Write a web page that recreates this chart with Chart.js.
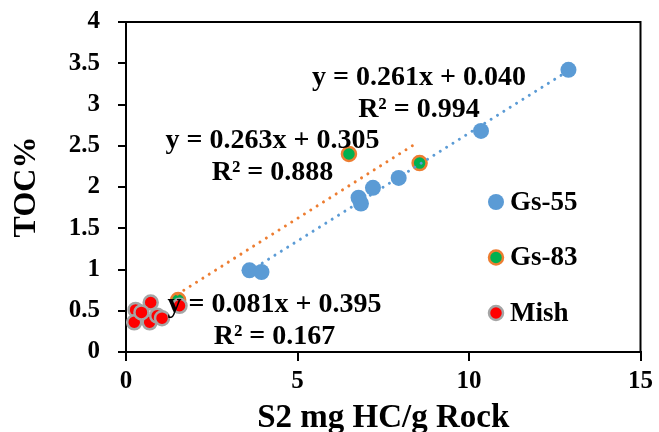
<!DOCTYPE html>
<html>
<head>
<meta charset="utf-8">
<script src="https://cdn.jsdelivr.net/npm/chart.js@4.4.1/dist/chart.umd.min.js"></script>
<style>
  html, body { margin: 0; padding: 0; background: #fff; }
  #wrap { width: 659px; height: 432px; }
</style>
</head>
<body>
<div id="wrap"><canvas id="toc"></canvas></div>
<script>
// values
const gs55X = [3.6, 3.95, 6.78, 6.85, 7.2, 7.95, 10.35, 12.9];
const gs55Y = [0.99, 0.97, 1.87, 1.80, 1.99, 2.11, 2.68, 3.42];
const gs83X = [1.52, 6.5, 8.56];
const gs83Y = [0.63, 2.4, 2.29];
const mishX = [0.28, 0.72, 0.24, 0.69, 0.91, 1.05, 1.56, 0.45];
const mishY = [0.51, 0.60, 0.36, 0.36, 0.44, 0.41, 0.56, 0.48];

// trendline end points
const trend55X = [3.6, 12.9];
const trend55Y = [0.98, 3.41];
const trend83X = [1.5, 8.5];
const trend83Y = [0.70, 2.54];

const xTicks = [0, 5, 10, 15];
const yTicks = [0, 0.5, 1, 1.5, 2, 2.5, 3, 3.5, 4];

const equations = [
  { x: 8.54, y: 3.24, lines: ['y = 0.261x + 0.040', 'R\u00b2 = 0.994'] },
  { x: 4.27, y: 2.47, lines: ['y = 0.263x + 0.305', 'R\u00b2 = 0.888'] },
  { x: 4.33, y: 0.485, lines: ['y = 0.081x + 0.395', 'R\u00b2 = 0.167'] }
];

const pts = (xs, ys) => xs.map((x, i) => ({ x: x, y: ys[i] }));

const serif = 'Liberation Serif, Times New Roman, serif';

const textPlugin = {
  id: 'textPlugin',
  afterDatasetsDraw(chart) {
    const ctx = chart.ctx;
    const xs = chart.scales.x, ys = chart.scales.y;
    ctx.save();
    ctx.fillStyle = '#000';
    ctx.font = 'bold 28px ' + serif;
    ctx.textAlign = 'center';
    ctx.textBaseline = 'alphabetic';
    equations.forEach(eq => {
      const px = xs.getPixelForValue(eq.x);
      const py = ys.getPixelForValue(eq.y);
      ctx.fillText(eq.lines[0], px, py);
      ctx.fillText(eq.lines[1], px, py + 32);
    });

    // legend inside the plot
    const items = chart.data.datasets.filter(d => d.inLegend);
    ctx.textAlign = 'left';
    ctx.textBaseline = 'middle';
    ctx.font = 'bold 27px ' + serif;
    items.forEach((d, i) => {
      const mx = 496, my = 202 + i * 55.5;
      ctx.beginPath();
      ctx.arc(mx, my, d.pointRadius, 0, Math.PI * 2);
      ctx.fillStyle = d.backgroundColor;
      ctx.fill();
      if (d.pointBorderWidth > 0) {
        ctx.lineWidth = d.pointBorderWidth;
        ctx.strokeStyle = d.borderColor;
        ctx.stroke();
      }
      ctx.fillStyle = '#000';
      ctx.fillText(d.label, 510, my + 1);
    });

    // frame top and right
    const a = chart.chartArea;
    ctx.strokeStyle = '#000';
    ctx.lineWidth = 2;
    ctx.beginPath();
    ctx.moveTo(a.left, a.top);
    ctx.lineTo(a.right, a.top);
    ctx.lineTo(a.right, a.bottom);
    ctx.stroke();
    ctx.restore();
  }
};

new Chart(document.getElementById('toc'), {
  type: 'scatter',
  data: {
    datasets: [
      {
        label: 'trend55',
        type: 'line',
        data: pts(trend55X, trend55Y),
        borderColor: '#5B9BD5',
        borderWidth: 3,
        borderDash: [0.01, 7.5],
        borderCapStyle: 'round',
        pointRadius: 0,
        fill: false,
        order: 0
      },
      {
        label: 'trend83',
        type: 'line',
        data: pts(trend83X, trend83Y),
        borderColor: '#ED7D31',
        borderWidth: 3,
        borderDash: [0.01, 7.5],
        borderCapStyle: 'round',
        pointRadius: 0,
        fill: false,
        order: 0
      },
      {
        label: 'Gs-55',
        inLegend: true,
        data: pts(gs55X, gs55Y),
        backgroundColor: '#5B9BD5',
        borderColor: '#5B9BD5',
        pointRadius: 8,
        pointBorderWidth: 0,
        order: 2
      },
      {
        label: 'Gs-83',
        inLegend: true,
        data: pts(gs83X, gs83Y),
        backgroundColor: '#00B050',
        borderColor: '#ED7D31',
        pointRadius: 7,
        pointBorderWidth: 2.5,
        order: 3
      },
      {
        label: 'Mish',
        inLegend: true,
        data: pts(mishX, mishY),
        backgroundColor: '#FF0000',
        borderColor: '#A5A5A5',
        pointRadius: 7,
        pointBorderWidth: 2.5,
        order: 1
      }
    ]
  },
  options: {
    responsive: true,
    maintainAspectRatio: false,
    animation: false,
    layout: { padding: { top: 22, right: 13, left: 0, bottom: 0 } },
    plugins: {
      legend: { display: false },
      tooltip: { enabled: false }
    },
    scales: {
      x: {
        type: 'linear',
        min: 0,
        max: 15,
        afterFit: s => { s.height = 80; },
        afterBuildTicks: s => { s.ticks = xTicks.map(v => ({ value: v })); },
        grid: { drawOnChartArea: false, drawTicks: true, tickLength: 9, tickColor: '#000', lineWidth: 2 },
        border: { display: true, color: '#000', width: 2 },
        ticks: { color: '#000', padding: 6, font: { family: serif, size: 25, weight: 'bold' } },
        title: {
          display: true,
          text: 'S2 mg HC/g Rock',
          color: '#000',
          padding: { top: 0, bottom: 0 },
          font: { family: serif, size: 33, weight: 'bold', lineHeight: 0.85 }
        }
      },
      y: {
        type: 'linear',
        min: 0,
        max: 4,
        afterFit: s => { s.width = 126; s.paddingTop = 0; s.paddingBottom = 0; },
        afterBuildTicks: s => { s.ticks = yTicks.map(v => ({ value: v })); },
        grid: { drawOnChartArea: false, drawTicks: true, tickLength: 8, tickColor: '#000', lineWidth: 2 },
        border: { display: true, color: '#000', width: 2 },
        ticks: {
          color: '#000',
          padding: 18,
          font: { family: serif, size: 25, weight: 'bold' },
          callback: v => String(v)
        },
        title: {
          display: true,
          text: 'TOC%',
          color: '#000',
          padding: { top: 8, bottom: 0 },
          font: { family: serif, size: 32, weight: 'bold' }
        }
      }
    }
  },
  plugins: [textPlugin]
});
</script>
</body>
</html>
